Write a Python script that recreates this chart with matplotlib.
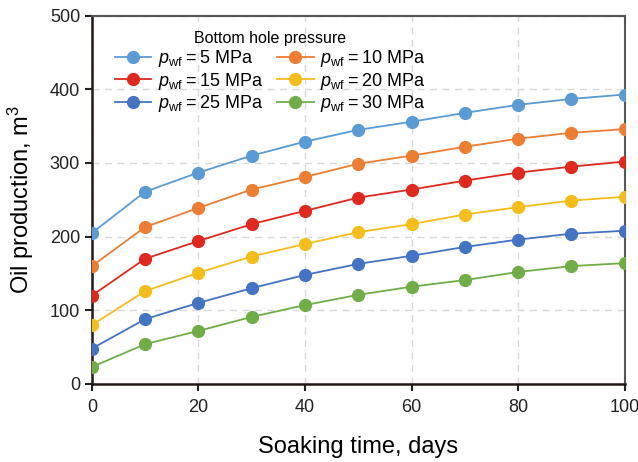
import numpy as np
import matplotlib.pyplot as plt

plt.rcParams['font.family'] = ['Liberation Sans', 'DejaVu Sans']
plt.rcParams['mathtext.fontset'] = 'custom'
plt.rcParams['mathtext.it'] = 'Liberation Sans:italic'
plt.rcParams['mathtext.rm'] = 'Liberation Sans'

# soaking time, days
days = [0, 10, 20, 30, 40, 50, 60, 70, 80, 90, 100]

# oil production (m3) for each bottom hole pressure
p5 = [205, 261, 287, 310, 329, 345, 356, 368, 379, 387, 393]
p10 = [160, 213, 239, 264, 281, 299, 310, 322, 333, 341, 346]
p15 = [120, 170, 194, 217, 235, 253, 264, 276, 287, 295, 302]
p20 = [80, 126, 151, 173, 190, 206, 217, 230, 240, 249, 254]
p25 = [48, 88, 110, 130, 148, 163, 174, 186, 196, 204, 208]
p30 = [23, 54, 72, 91, 107, 121, 132, 141, 152, 160, 164]

pressures = [5, 10, 15, 20, 25, 30]
colors = ['#5B9BD5', '#ED7D31', '#E0281F', '#F5BD1A', '#4472C4', '#70AD47']

fig = plt.figure(figsize=(6.38, 4.62), dpi=100)
ax = fig.add_axes([0.144, 0.169, 0.835, 0.797])

lines = []
for p, vals, c in zip(pressures, [p5, p10, p15, p20, p25, p30], colors):
    ln, = ax.plot(days, vals, color=c, lw=1.3, marker='o', ms=8.5,
                  label='$p_{\\mathrm{wf}}$\u2009=\u2009%d MPa' % p, zorder=3)
    lines.append(ln)

ax.set_xlim(0, 100)
ax.set_ylim(0, 500)
ax.set_xticks(np.arange(0, 101, 20))
ax.set_yticks(np.arange(0, 501, 100))
ax.grid(True, color='#d9d9d9', ls=(0, (5, 4)), lw=1)
ax.tick_params(direction='out', length=5, width=1.5, labelsize=13, colors='#222222')
ax.tick_params(axis='x', pad=6)

for s in ['left', 'bottom']:
    ax.spines[s].set_linewidth(1.8)
    ax.spines[s].set_color('#231815')
for s in ['top', 'right']:
    ax.spines[s].set_linewidth(1.5)
    ax.spines[s].set_color('#555555')

ax.set_xlabel('Soaking time, days', fontsize=17, labelpad=14)
ax.set_ylabel('Oil production, m$^3$', fontsize=17, labelpad=10)

# row-wise order like the original: 5,10 / 15,20 / 25,30
order = [0, 2, 4, 1, 3, 5]
leg = ax.legend([lines[i] for i in order], [lines[i].get_label() for i in order],
                ncol=2, loc='upper left', bbox_to_anchor=(0.015, 1.0),
                title='Bottom hole pressure', frameon=False, fontsize=13,
                title_fontsize=11.5, handlelength=2.0, columnspacing=0.8,
                labelspacing=0.1, handletextpad=0.35, borderaxespad=0.45)

fig.savefig('out.png', dpi=100)
